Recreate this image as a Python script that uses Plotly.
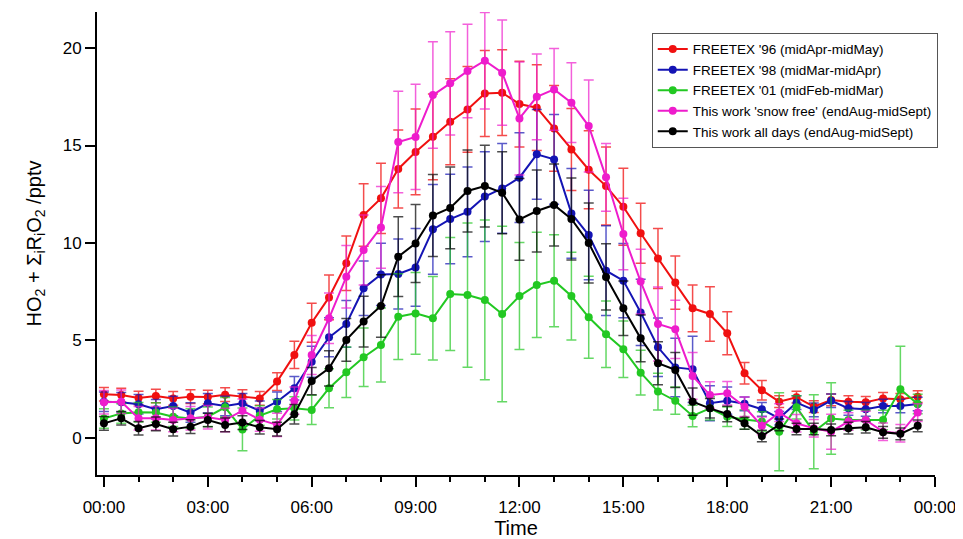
import plotly.graph_objects as go

hours = [i * 0.5 for i in range(48)]

tick_vals = [0, 3, 6, 9, 12, 15, 18, 21, 24]
tick_text = ["00:00", "03:00", "06:00", "09:00", "12:00", "15:00", "18:00", "21:00", "00:00"]

names = [
    "FREETEX '96 (midApr-midMay)",
    "FREETEX '98 (midMar-midApr)",
    "FREETEX '01 (midFeb-midMar)",
    "This work 'snow free' (endAug-midSept)",
    "This work all days (endAug-midSept)",
]

red_vals = [2.24, 2.2, 2.05, 2.15, 2.03, 2.12, 2.1, 2.22, 2.12, 2.03, 2.89, 4.26,
            5.91, 7.21, 8.96, 11.44, 12.29, 13.8, 14.67, 15.45, 16.22, 16.85, 17.67, 17.71,
            17.13, 16.94, 15.88, 14.8, 13.76, 12.92, 11.86, 10.5, 9.21, 7.97, 6.65, 6.36,
            5.37, 3.32, 2.45, 1.86, 2.09, 1.61, 1.95, 1.86, 1.83, 2.03, 1.98, 2.12]
red_err = [0.35, 0.35, 0.35, 0.35, 0.35, 0.35, 0.35, 0.35, 0.35, 0.35, 0.46, 0.7,
           1.0, 1.15, 1.4, 1.6, 1.8, 2.0, 2.2, 2.2, 2.2, 2.2, 2.2, 2.2,
           2.2, 2.2, 2.2, 2.1, 2.0, 2.0, 1.97, 1.54, 1.54, 1.37, 1.2, 1.4,
           1.1, 0.55, 0.5, 0.3, 0.3, 0.3, 0.3, 0.3, 0.3, 0.3, 0.3, 0.3]

blue_vals = [1.86, 1.83, 1.73, 1.47, 1.64, 1.3, 1.78, 1.64, 1.78, 1.4, 1.86, 2.55,
             3.91, 5.16, 5.85, 7.68, 8.39, 8.41, 8.75, 10.7, 11.23, 11.6, 12.38, 12.8,
             13.35, 14.55, 14.29, 11.52, 10.41, 8.58, 8.07, 6.44, 4.65, 3.62, 3.52, 1.78,
             1.91, 1.75, 1.47, 1.01, 1.81, 1.44, 1.91, 1.52, 1.47, 1.64, 1.64, 1.74]
blue_err = [0.5, 0.5, 0.5, 0.5, 0.5, 0.5, 0.5, 0.5, 0.5, 0.5, 0.5, 0.6,
            0.8, 1.0, 1.2, 1.4, 1.6, 1.8, 2.0, 2.3, 2.3, 2.3, 2.3, 2.3,
            2.3, 2.3, 2.3, 2.3, 2.3, 2.3, 1.9, 1.7, 1.5, 1.5, 1.7, 0.9,
            0.7, 0.35, 0.35, 0.35, 0.35, 0.35, 0.35, 0.35, 0.35, 0.35, 0.35, 0.35]

green_vals = [1.0, 1.26, 1.32, 1.3, 1.09, 1.0, 1.09, 1.57, 0.44, 1.15, 1.47, 1.52,
              1.44, 2.55, 3.37, 4.14, 4.77, 6.22, 6.39, 6.14, 7.38, 7.33, 7.08, 6.36,
              7.28, 7.85, 8.07, 7.28, 6.19, 5.32, 4.55, 3.35, 2.38, 1.91, 1.13, 1.52,
              1.09, 0.95, 0.85, 0.32, 1.57, 0.32, 1.0, 0.92, 0.92, 0.92, 2.5, 1.74]
green_err = [0.5, 0.5, 0.5, 0.5, 0.5, 0.5, 0.5, 0.5, 1.1, 0.5, 0.5, 0.6,
             0.75, 1.0, 1.3, 1.5, 1.9, 2.2, 2.1, 2.14, 2.9, 3.7, 4.1, 4.5,
             2.74, 2.7, 2.36, 2.25, 2.1, 1.7, 1.45, 1.15, 0.94, 0.7, 0.55, 0.6,
             0.5, 0.5, 0.5, 2.0, 0.6, 1.9, 1.83, 0.5, 0.5, 0.5, 2.2, 0.5]

magenta_vals = [1.83, 1.86, 1.01, 1.01, 0.92, 1.01, 1.06, 0.92, 1.4, 0.94, 0.67, 1.91,
                4.26, 6.14, 8.27, 9.64, 10.8, 15.18, 15.44, 17.59, 18.19, 18.82, 19.35, 18.74,
                16.39, 17.5, 17.88, 17.2, 16.0, 13.37, 10.46, 8.02, 5.85, 5.57, 3.18, 2.2,
                2.29, 1.6, 0.62, 1.3, 0.75, 0.5, 0.32, 0.84, 0.92, 0.32, 0.24, 1.3]
magenta_err = [0.6, 0.6, 0.6, 0.6, 0.6, 0.6, 0.6, 0.6, 0.6, 0.6, 0.6, 0.7,
               1.0, 1.3, 1.6, 1.8, 2.1, 2.6, 2.7, 2.73, 2.65, 2.4, 2.47, 2.7,
               2.9, 2.2, 2.1, 2.05, 2.36, 1.74, 1.83, 1.66, 1.9, 1.5, 1.2, 0.68,
               0.6, 0.5, 0.45, 0.45, 0.45, 0.45, 0.9, 0.45, 0.45, 0.45, 0.45, 0.45]

black_vals = [0.75, 1.01, 0.5, 0.72, 0.45, 0.58, 0.92, 0.67, 0.79, 0.55, 0.45, 1.21,
              2.92, 3.57, 5.03, 5.97, 6.77, 9.3, 9.98, 11.41, 11.8, 12.67, 12.92, 12.58,
              11.21, 11.64, 11.95, 11.23, 10.0, 8.26, 6.65, 5.11, 3.83, 3.49, 1.86, 1.52,
              1.23, 0.75, 0.1, 0.67, 0.46, 0.46, 0.41, 0.5, 0.55, 0.29, 0.21, 0.62]
black_err = [0.35, 0.35, 0.35, 0.35, 0.35, 0.35, 0.35, 0.35, 0.35, 0.35, 0.35, 0.5,
             0.7, 0.9, 1.1, 1.3, 1.6, 2.05, 2.0, 2.1, 2.1, 2.1, 2.1, 2.1,
             2.1, 2.1, 2.1, 2.1, 2.05, 1.7, 1.4, 1.2, 1.1, 0.9, 0.7, 0.5,
             0.4, 0.3, 0.3, 0.3, 0.3, 0.3, 0.3, 0.3, 0.3, 0.3, 0.3, 0.3]

series = [
    (names[0], red_vals, red_err, "#f01010", "rgba(240,16,16,0.75)"),
    (names[1], blue_vals, blue_err, "#1414b4", "rgba(20,20,180,0.7)"),
    (names[2], green_vals, green_err, "#22c822", "rgba(34,200,34,0.7)"),
    (names[3], magenta_vals, magenta_err, "#ee1ccc", "rgba(238,28,204,0.7)"),
    (names[4], black_vals, black_err, "#000000", "rgba(0,0,0,0.7)"),
]

fig = go.Figure()
for name, vals, err, col, ecol in series:
    fig.add_trace(go.Scatter(
        x=hours, y=vals, name=name, mode="lines+markers",
        line=dict(color=col, width=2),
        marker=dict(color=col, size=8),
        error_y=dict(type="data", array=err, visible=True, color=ecol,
                     thickness=1.5, width=5),
    ))

# The page body has an 8px default margin, so the figure is 8px smaller
# and the margins are shifted to keep the plot area where the reference has it.
fig.update_layout(
    width=955, height=531,
    paper_bgcolor="white", plot_bgcolor="white",
    margin=dict(l=89, r=28, t=4, b=64),
    font=dict(family="Liberation Sans, Arial, sans-serif", size=17, color="black"),
    showlegend=True,
    legend=dict(
        x=0.662, y=0.955, xanchor="left", yanchor="top",
        bgcolor="white", bordercolor="#555555", borderwidth=1,
        font=dict(size=13.5), tracegroupgap=0,
    ),
)
fig.update_xaxes(
    range=[-0.2, 24.0], tickmode="array", tickvals=tick_vals, ticktext=tick_text,
    showline=True, linecolor="black", linewidth=2, ticks="outside", ticklen=10,
    tickwidth=2, tickcolor="black", showgrid=False, zeroline=False, automargin=False,
    ticklabeloverflow="allow", ticklabelstandoff=6,
    minor=dict(dtick=1, tick0=0, ticks="outside", ticklen=5, tickwidth=2, tickcolor="black"),
    title=dict(text="Time", standoff=4),
)
fig.update_yaxes(
    range=[-1.9, 21.85], tickvals=[0, 5, 10, 15, 20],
    showline=True, linecolor="black", linewidth=2, ticks="outside", ticklen=10,
    tickwidth=2, tickcolor="black", showgrid=False, zeroline=False, automargin=False,
    title=dict(text="HO<sub>2</sub> + Σ<sub>i</sub>R<sub>i</sub>O<sub>2</sub> /pptv", standoff=16),
)

fig.write_html("out.html")
